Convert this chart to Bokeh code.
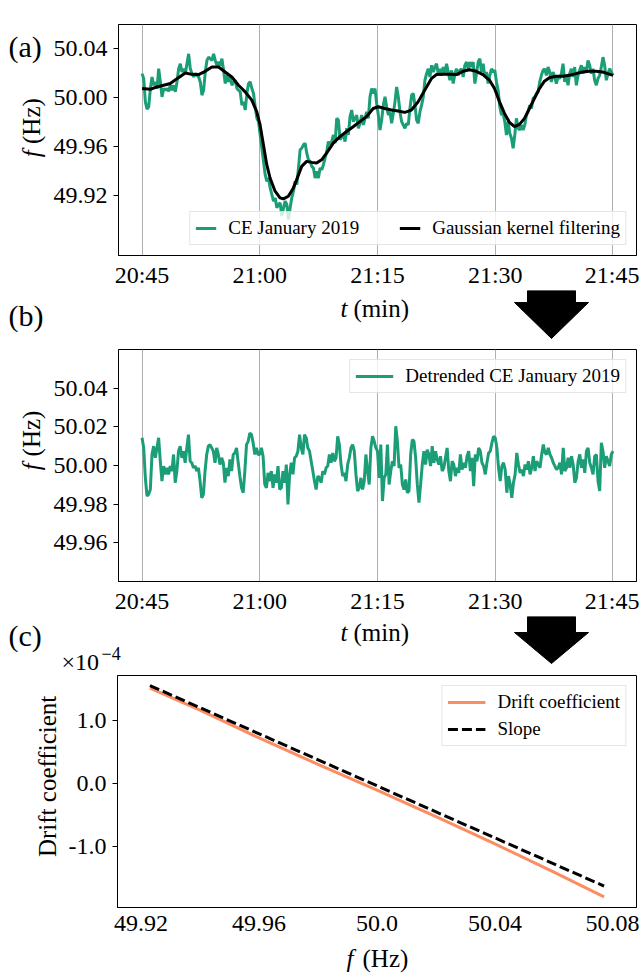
import numpy as np
from bokeh.plotting import figure
from bokeh.models import (FixedTicker, Range1d, Legend, LegendItem, PrintfTickFormatter)
from bokeh.layouts import column, row
from bokeh.embed import file_html
from bokeh.resources import INLINE
from bokeh.core.properties import value

# ------------------------------------------------------------------ data
nominal_f = 50.0
time_ticks = [0, 15, 30, 45, 60]                       # minutes after 20:45
time_tick_labels = ["20:45", "21:00", "21:15", "21:30", "21:45"]
f_ticks_a = [49.92, 49.96, 50.00, 50.04]
f_ticks_b = [49.96, 49.98, 50.00, 50.02, 50.04]

# (a) CE January 2019, deviation from 50 Hz in mHz, evenly sampled 20:45 -> 21:45
raw_dev_mhz = [
    19.8, 15.7, -3.3, -9.2, -7.3, 7.6, 17.1, 10.3, 13.0, 7.6,
    23.8, 13.0, 0.8, 7.6, 6.2, 7.6, 5.4, 10.3, 6.2, 10.3,
    4.9, 13.0, 23.8, 27.9, 21.1, 23.8, 19.8, 27.9, 36.0, 23.8,
    19.8, 17.1, 19.8, 18.4, 17.1, 13.0, 2.2, 6.2, 21.1, 30.6,
    33.3, 32.0, 30.6, 36.0, 30.6, 26.6, 29.3, 26.6, 32.0, 22.5,
    11.7, 18.4, 13.0, 17.1, 10.3, 13.0, 14.4, 7.6, 6.2, 4.9,
    -6.0, -3.3, -10.0, 3.5, 11.7, 13.0, 7.6, 3.5, -7.3, -16.8,
    -19.5, -30.4, -41.2, -52.0, -62.9, -68.3, -65.6, -73.7, -79.1, -84.6,
    -81.8, -90.0, -87.3, -85.9, -96.7, -90.0, -84.6, -87.3, -99.5, -90.0,
    -81.8, -76.4, -68.3, -71.0, -57.5, -42.5,
    -41.2, -38.5, -37.1, -45.3, -50.7, -52.0, -56.1, -57.5, -65.6, -60.2,
    -65.6, -57.5, -58.8, -54.7, -49.3, -43.9, -35.8, -38.5, -35.8, -30.4,
    -37.1, -16.8, -18.2, -34.4, -31.7, -30.4, -35.8, -24.9, -30.4, -15.4,
    -10.0, -19.5, -16.8, -14.1, -24.9, -20.9, -14.1, -22.2, -16.8, -11.4,
    -16.8, 0.8, 7.6, 3.5, 7.6, -4.6, -14.1, -26.3, -18.2, -6.0,
    0.8, -7.3, -14.1, -11.4, -20.9, -12.7, -3.3, 8.9, 0.8, -11.4,
    -19.5, -22.2, -24.9, -20.9, -22.2, -8.7, 2.2, 3.5, -6.0, -18.2,
    -20.9, -11.4, -6.0, 0.8, 14.4, 19.8, 23.8, 17.1, 26.6, 21.1,
    25.2, 27.9, 19.8, 23.8, 18.4, 25.2, 19.8, 27.9, 21.1, 14.4,
    22.5, 11.7, 19.8, 23.8, 18.4, 22.5,
    23.8, 17.1, 26.6, 29.3, 23.8, 29.3, 25.2, 29.3, 11.7, 19.8,
    29.3, 32.0, 21.1, 27.9, 17.1, 21.1, 11.7, 18.4, 23.8, 21.1,
    22.5, 13.0, 6.2, -7.3, -14.1, -12.7, -19.5, -30.4, -19.5, -29.0,
    -33.1, -41.2, -30.4, -16.8, -24.9, -26.3, -22.2, -26.3, -22.2, -14.1,
    -11.4, -6.0, -8.7, -0.5, 0.8, 3.5, 4.9, 13.0, 18.4, 22.5,
    23.8, 18.4, 25.2, 21.1, 13.0, 21.1, 17.1, 11.7, 17.1, 15.7,
    19.8, 27.9, 13.0, 18.4, 10.3, 19.8, 23.8, 17.1, 25.2, 10.3,
    18.4, 22.5, 26.6, 19.8, 25.2, 21.1, 30.6, 26.6, 19.8, 23.8,
    14.4, 10.3, 15.7, 18.4, 25.2, 33.3, 26.6, 14.4, 19.8, 23.8,
    21.1, 18.4,
]

# (a) Gaussian kernel filtering (trend)
trend_t_min = [
    0.0, 1.06, 1.91, 2.75, 3.60, 4.45, 5.51, 6.36, 7.20, 8.05,
    8.90, 9.75, 10.59, 11.44, 12.29, 13.14, 13.98, 14.62, 15.04, 15.47,
    15.89, 16.31, 16.95, 17.58, 18.01, 18.64, 19.28,
    19.70, 20.34, 20.97, 21.61, 22.24, 22.88, 23.51, 24.36, 25.21, 26.06,
    26.90, 27.75, 28.60, 29.45, 30.08, 30.93, 31.78, 32.62, 33.47, 34.32,
    35.17, 36.01, 36.86, 37.50, 38.34, 39.19,
    40.04, 40.89, 41.73, 42.58, 43.43, 44.28, 44.91, 45.55, 46.18, 46.82,
    47.46, 48.09, 48.73, 49.36, 50.00, 50.63, 51.27, 51.90, 52.75, 53.60,
    54.45, 55.29, 56.14, 56.99, 57.84, 58.68, 59.32, 60.0,
]
trend_dev_mhz = [
    7.6, 7.0, 8.9, 10.3, 11.7, 15.7, 20.3, 19.2, 19.0, 21.7,
    25.2, 25.2, 21.1, 17.1, 10.3, 4.9, -1.9, -11.4, -22.2, -38.5,
    -54.7, -65.6, -76.4, -81.8, -82.7, -80.5, -73.7,
    -66.9, -56.1, -52.0, -52.8, -53.4, -50.7, -45.3, -37.1, -31.7, -27.6,
    -23.6, -19.5, -15.4, -8.7, -7.3, -8.7, -10.0, -10.8, -11.9, -10.0,
    -3.3, 6.2, 15.7, 19.0, 19.2, 19.2,
    19.0, 21.7, 23.0, 21.7, 19.0, 14.4, 7.6, -3.3, -12.7, -20.1,
    -23.6, -21.7, -16.8, -8.7, -0.5, 7.6, 13.6, 16.5, 17.6, 17.6,
    18.4, 19.8, 21.1, 21.7, 21.7, 21.1, 19.8, 18.4,
]

# (b) Detrended CE January 2019, deviation from 50 Hz in mHz, evenly sampled
detrended_dev_mhz = [
    14.3, 9.1, -6.4, -15.8, -14.9, -12.4, 5.7, 10.0, 4.0, 9.1,
    14.3, 2.2, -8.1, -0.3, -4.6, -1.2, -4.6, -0.3, -2.9, 5.7,
    -8.9, -2.9, 7.4, 10.0, 4.0, 7.4, 1.4, 9.1, 16.0, 2.2,
    1.4, -1.2, -0.3, -2.9, -1.2, -8.1, -16.7, -14.9, -2.9, 5.7,
    10.0, 10.8, 9.1, 7.4, 1.4, 9.1, 5.7, 0.5, 4.0, 1.4,
    -8.9, -1.2, -5.5, 3.1, -2.9, 5.7, 6.5, 9.1, 1.4, -5.5,
    -11.5, -14.1, -2.9, 10.8, 12.5, 16.8, 16.0, 11.7, 5.7, 9.1,
    5.7,
    5.7, 9.1, 4.8, -9.8, -11.5, -3.8, -8.1, -2.9, -11.5, -4.6,
    -8.9, -0.3, -12.4, -11.5, -2.9, -8.9, 0.5, -20.1, -4.6, 1.4,
    -4.6, 4.0, 4.8, 7.4, 16.0, 9.1, 5.7, 16.0, 14.3, 9.1,
    7.4, 2.2, -2.9, -8.1, -12.4, -5.5, -6.4, -8.9, -2.9, -4.6,
    -1.2, -0.3, 5.7, 1.4, 6.5, 2.2, 4.0, 15.1, 10.8, 0.5,
    -5.5, -3.8, -8.1, 0.5, 4.0, 9.1, 10.8, 7.4, -4.6, -13.2,
    -11.5, -6.4, -12.4, -8.1, 5.7, -2.9, -9.8, 9.1, 15.1, 12.5,
    9.1,
    7.4, -6.4, 10.8, -18.4, -6.4, -4.6, 10.8, -9.8, -2.9, 2.2,
    -0.3, 20.3, 12.5, -1.2, 0.5, -9.8, -12.4, -7.2, -14.1, -13.2,
    5.7, 13.4, 12.5, 4.0, -9.8, -19.2, -9.8, 0.5, 7.4, 0.5,
    8.2, 5.7, -0.3, 10.0, 1.4, 7.4, 3.1, 0.5, 4.8, -2.9,
    -1.2, 4.0, 9.1, -2.9, -8.1, 2.2, 0.5, -5.5, -1.2, -3.8,
    5.7, -2.1, 1.4, -1.2, 4.8, 7.4, -2.9, 4.0, -10.7, 5.7,
    2.2, 9.1, 7.4, 1.4, -0.3, -4.6, 1.4, 6.5, 7.4, 11.7,
    15.1,
    14.3, 9.1, -1.2, -8.1, -0.3, 1.4, -2.1, -14.1, -5.5, -9.8,
    -16.7, -8.9, -4.6, 6.5, 0.5, -3.8, -2.1, -5.5, 0.5, -2.1,
    2.2, -4.6, -1.2, 4.8, -2.9, 2.2, 0.5, -1.2, 5.7, 10.8,
    6.5, 5.7, 9.1, 5.7, 4.0, 1.4, -0.3, -2.1, -1.2, 1.4,
    -4.6, 9.1, -2.9, -1.2, 4.0, -1.2, 4.8, 0.5, -8.9, -6.4,
    2.2, 5.7, -1.2, 3.1, -3.8, 7.4, 9.1, 1.4, -1.2, -4.6,
    4.8, 5.7, -8.1, -13.2, 11.7, 7.4, -1.2, 4.8, 2.2, -0.3,
    5.7, 7.4,
]

# (c) Drift coefficient (units of 1e-4) and linear slope
drift_f_hz = [49.923, 49.94, 49.96, 49.98, 50.00, 50.02, 50.04, 50.06, 50.077]
drift_coef_e4 = [1.52, 1.17, 0.73, 0.31, -0.10, -0.52, -0.95, -1.40, -1.79]
slope_f_hz = [49.923, 50.077]
slope_coef_e4 = [1.56, -1.62]
drift_f_ticks = [49.92, 49.96, 50.0, 50.04, 50.08]
drift_f_tick_labels = ["49.92", "49.96", "50.0", "50.04", "50.08"]
drift_y_ticks = [-1.0, 0.0, 1.0]

# ------------------------------------------------------------------ derived
raw_t = np.linspace(0, 60, len(raw_dev_mhz))
raw_f = nominal_f + np.array(raw_dev_mhz) / 1000.0
trend_f = nominal_f + np.array(trend_dev_mhz) / 1000.0
det_t = np.linspace(0, 60, len(detrended_dev_mhz))
det_f = nominal_f + np.array(detrended_dev_mhz) / 1000.0

# ------------------------------------------------------------------ style
SERIF = "Liberation Serif"
GREEN = "#1b9e77"
ORANGE = "#fc8d62"
W = 639


def make_fig(width, height, xr, yr, left, top, bottom, right=3):
    p = figure(width=width, height=height,
               x_range=Range1d(*xr), y_range=Range1d(*yr),
               output_backend="svg", toolbar_location=None,
               min_border_left=left, min_border_right=right,
               min_border_top=top, min_border_bottom=bottom)
    p.outline_line_color = "black"
    p.outline_line_width = 1
    p.outline_line_alpha = 1
    p.background_fill_color = "white"
    p.border_fill_color = "white"
    for ax in (p.xaxis[0], p.yaxis[0]):
        ax.major_label_text_font = SERIF
        ax.major_label_text_font_size = "24px"
        ax.major_label_text_color = "black"
        ax.axis_line_color = "black"
        ax.major_tick_line_color = "black"
        ax.minor_tick_line_color = None
        ax.major_tick_in = 0
    p.xaxis.major_tick_out = 0
    p.yaxis.major_tick_out = 5
    p.yaxis.major_label_standoff = 6
    p.xaxis.major_label_standoff = 6
    p.ygrid.visible = False
    p.xgrid.grid_line_color = "#b0b0b0"
    p.xgrid.grid_line_width = 1
    return p


def canvas_fig(width, height):
    """Blank figure whose frame is the whole canvas, in pixel units (y down)."""
    p = figure(width=width, height=height,
               x_range=Range1d(0, width), y_range=Range1d(height, 0),
               output_backend="svg", toolbar_location=None,
               x_axis_type=None, y_axis_type=None,
               min_border=0, min_border_left=0, min_border_right=0,
               min_border_top=0, min_border_bottom=0)
    p.outline_line_color = None
    p.background_fill_color = "white"
    p.border_fill_color = "white"
    return p


def txt(p, x, y, s, size, align="left", angle=0.0, style="normal"):
    p.text(x=[x], y=[y], text=[s], text_font=value(SERIF),
           text_font_size=value(f"{size}px"), text_align=value(align),
           text_baseline=value("middle"), text_font_style=value(style),
           angle=angle, text_color="black")


def arrow(p, y_top, y_base, y_tip):
    p.patch(x=[527, 575, 575, 588, 551, 514, 527],
            y=[y_top, y_top, y_base, y_base, y_tip, y_base, y_base],
            fill_color="black", line_color="black", line_width=1)


def style_legend(leg, glyph_w, spacing):
    leg.label_text_font = SERIF
    leg.label_text_font_size = "19px"
    leg.label_text_color = "black"
    leg.border_line_color = "#cccccc"
    leg.border_line_width = 1
    leg.background_fill_alpha = 0.8
    leg.glyph_width = glyph_w
    leg.glyph_height = 20
    leg.label_height = 20
    leg.label_standoff = 12
    leg.spacing = spacing
    leg.padding = 5
    leg.margin = 10


def time_axes(p, yticks):
    p.xaxis.ticker = FixedTicker(ticks=time_ticks)
    p.xaxis.major_label_overrides = dict(zip(time_ticks, time_tick_labels))
    p.yaxis.ticker = FixedTicker(ticks=yticks)
    p.yaxis.formatter = PrintfTickFormatter(format="%.2f")


# ------------------------------------------------------------------ (a)   page y 0 - 290
HA = 290
pa = make_fig(W - 50, HA, (-3, 63), (49.871, 50.060), left=67, top=24, bottom=HA - 24 - 232)
time_axes(pa, f_ticks_a)
r_raw = pa.line(raw_t, raw_f, line_color=GREEN, line_width=3)
r_trend = pa.line(trend_t_min, trend_f, line_color="black", line_width=3)
leg_a = Legend(items=[LegendItem(label="CE January 2019", renderers=[r_raw]),
                      LegendItem(label="Gaussian kernel filtering", renderers=[r_trend])],
               location="bottom_right", orientation="horizontal")
style_legend(leg_a, 21, 40)
pa.add_layout(leg_a)

sa = canvas_fig(50, HA)
txt(sa, 8, 28, "(a)", 30)
txt(sa, 31, 158, "f", 25, align="right", angle=np.pi / 2, style="italic")
txt(sa, 31, 150, "(Hz)", 25, align="left", angle=np.pi / 2)

# ------------------------------------------------------------------ gap a/b   page y 290 - 347
gab = canvas_fig(W, 57)
arrow(gab, 0, 12, 48)
txt(gab, 8, 25, "(b)", 30)
txt(gab, 347, 18, "t", 25, align="right", style="italic")
txt(gab, 353, 18, "(min)", 25)

# ------------------------------------------------------------------ (b)   page y 347 - 616
HB = 269
pb = make_fig(W - 50, HB, (-3, 63), (49.94, 50.06), left=67, top=2, bottom=HB - 2 - 233)
time_axes(pb, f_ticks_b)
r_det = pb.line(det_t, det_f, line_color=GREEN, line_width=3)
leg_b = Legend(items=[LegendItem(label="Detrended CE January 2019", renderers=[r_det])],
               location="top_right")
style_legend(leg_b, 38, 5)
pb.add_layout(leg_b)

sb = canvas_fig(50, HB)
txt(sb, 31, 132, "f", 25, align="right", angle=np.pi / 2, style="italic")
txt(sb, 31, 124, "(Hz)", 25, align="left", angle=np.pi / 2)

# ------------------------------------------------------------------ gap b/c   page y 616 - 674
gbc = canvas_fig(W, 58)
arrow(gbc, 0, 16, 47)
txt(gbc, 8, 19, "(c)", 30)
txt(gbc, 347, 16, "t", 25, align="right", style="italic")
txt(gbc, 353, 16, "(min)", 25)
txt(gbc, 61, 45, "\u00d710", 24)
txt(gbc, 101, 37, "\u22124", 18)

# ------------------------------------------------------------------ (c)   page y 674 - 943
HC = 269
pc = make_fig(W - 60, HC, (49.912, 50.088), (-1.96, 1.72), left=57, top=1, bottom=HC - 1 - 232)
pc.xgrid.visible = False
pc.xaxis.ticker = FixedTicker(ticks=drift_f_ticks)
pc.xaxis.major_label_overrides = dict(zip(drift_f_ticks, drift_f_tick_labels))
pc.xaxis.major_label_standoff = 8
pc.yaxis.ticker = FixedTicker(ticks=drift_y_ticks)
pc.yaxis.formatter = PrintfTickFormatter(format="%.1f")
r_drift = pc.line(drift_f_hz, drift_coef_e4, line_color=ORANGE, line_width=3)
r_slope = pc.line(slope_f_hz, slope_coef_e4, line_color="black", line_width=3,
                  line_dash="10 4")
leg_c = Legend(items=[LegendItem(label="Drift coefficient", renderers=[r_drift]),
                      LegendItem(label="Slope", renderers=[r_slope])],
               location="top_right")
style_legend(leg_c, 38, 5)
pc.add_layout(leg_c)

sc = canvas_fig(60, HC)
txt(sc, 47, 117, "Drift coefficient", 25, align="center", angle=np.pi / 2)

# ------------------------------------------------------------------ bottom   page y 943 - 975
gbot = canvas_fig(W, 32)
txt(gbot, 353, 15, "f", 25, align="right", style="italic")
txt(gbot, 362, 15, "(Hz)", 25)

layout = column(row(sa, pa), gab, row(sb, pb), gbc, row(sc, pc), gbot)
open("out.html", "w").write(file_html(layout, INLINE))
